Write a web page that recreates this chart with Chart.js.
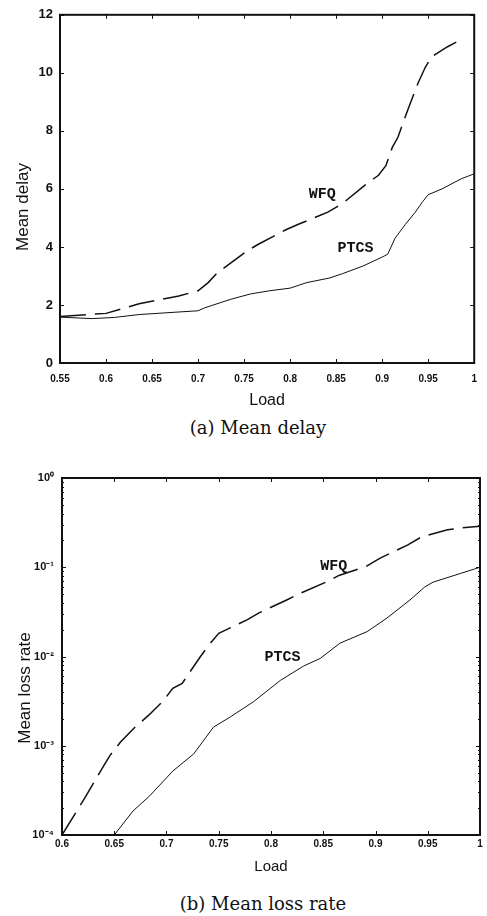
<!DOCTYPE html>
<html>
<head>
<meta charset="utf-8">
<script src="https://cdn.jsdelivr.net/npm/chart.js@4/dist/chart.umd.min.js"></script>
<style>
  html, body { margin: 0; padding: 0; background: #fff; }
  body { width: 487px; height: 916px; position: relative; overflow: hidden; }
  canvas { position: absolute; left: 0; }
  #ca { top: 0; }
  #cb { top: 458px; }
  .ytitle { position: absolute; font-family: "Liberation Sans", Arial, sans-serif; font-size: 17px; line-height: 17px;
            color: #111; white-space: nowrap; transform: translate(-50%, -50%) rotate(-90deg); }
  .cap { position: absolute; font-family: "DejaVu Serif", serif; font-size: 18px; line-height: 20px;
         color: #111; white-space: nowrap; transform: translate(-50%, -50%); }
</style>
</head>
<body>
<canvas id="ca" width="487" height="415"></canvas>
<canvas id="cb" width="487" height="420"></canvas>
<div class="ytitle" style="left:22px; top:207px;">Mean delay</div>
<div class="ytitle" style="left:24px; top:688px;">Mean loss rate</div>
<div class="cap" style="left:258px; top:428px;">(a) Mean delay</div>
<div class="cap" style="left:263px; top:904px;">(b) Mean loss rate</div>
<script>
// ---------- (a) Mean delay ----------
const delayXTicks = [0.55, 0.6, 0.65, 0.7, 0.75, 0.8, 0.85, 0.9, 0.95, 1];
const delayYTicks = [0, 2, 4, 6, 8, 10, 12];

const delayLoadWfq = [0.55, 0.58, 0.60, 0.625, 0.636, 0.668, 0.679, 0.70, 0.711, 0.721, 0.754, 0.766, 0.796, 0.809, 0.841, 0.857, 0.882, 0.896, 0.904, 0.911, 0.917, 0.928, 0.939, 0.947, 0.954, 0.971, 0.986];
const delayWfq     = [1.60, 1.67, 1.71, 1.94, 2.04, 2.24, 2.31, 2.49, 2.77, 3.11, 3.88, 4.10, 4.60, 4.78, 5.20, 5.50, 6.15, 6.47, 6.80, 7.43, 7.77, 8.74, 9.65, 10.20, 10.56, 10.90, 11.15];

const delayLoadPtcs = [0.55, 0.585, 0.609, 0.636, 0.675, 0.70, 0.707, 0.736, 0.757, 0.778, 0.80, 0.818, 0.843, 0.857, 0.879, 0.90, 0.906, 0.914, 0.925, 0.936, 0.944, 0.95, 0.965, 0.986, 1.0];
const delayPtcs     = [1.58, 1.53, 1.57, 1.67, 1.75, 1.80, 1.90, 2.20, 2.38, 2.49, 2.58, 2.77, 2.93, 3.08, 3.34, 3.65, 3.75, 4.30, 4.77, 5.20, 5.56, 5.80, 6.00, 6.35, 6.52];

// ---------- (b) Mean loss rate ----------
const lossXTicks = [0.6, 0.65, 0.7, 0.75, 0.8, 0.85, 0.9, 0.95, 1];
const lossYMajor = [1e-4, 1e-3, 1e-2, 1e-1, 1];
const lossYLabels = ['10\u207B\u2074', '10\u207B\u00B3', '10\u207B\u00B2', '10\u207B\u00B9', '10\u2070'];

const lossLoadWfq = [0.60, 0.617, 0.623, 0.64, 0.646, 0.656, 0.670, 0.683, 0.697, 0.706, 0.715, 0.732, 0.740, 0.750, 0.777, 0.789, 0.815, 0.828, 0.856, 0.865, 0.891, 0.904, 0.931, 0.944, 0.969, 0.981, 1.0];
const lossWfq     = [1.0e-4, 2.1e-4, 2.75e-4, 6.0e-4, 7.8e-4, 1.1e-3, 1.62e-3, 2.2e-3, 3.2e-3, 4.4e-3, 5.0e-3, 9.8e-3, 1.32e-2, 1.82e-2, 2.57e-2, 3.1e-2, 4.3e-2, 5.1e-2, 7.1e-2, 8.1e-2, 0.102, 0.126, 0.178, 0.219, 0.263, 0.275, 0.288];

const lossLoadPtcs = [0.65, 0.668, 0.684, 0.706, 0.726, 0.745, 0.761, 0.783, 0.809, 0.831, 0.847, 0.866, 0.892, 0.911, 0.933, 0.947, 0.955, 0.981, 1.0];
const lossPtcs     = [1.0e-4, 1.86e-4, 2.75e-4, 5.2e-4, 8.1e-4, 1.62e-3, 2.1e-3, 3.1e-3, 5.4e-3, 7.8e-3, 9.5e-3, 1.41e-2, 1.9e-2, 2.7e-2, 4.3e-2, 6.0e-2, 6.8e-2, 8.5e-2, 0.1];

// curve labels (data coordinates)
const delayNotes = [{ text: 'WFQ', x: 0.835, y: 5.8 }, { text: 'PTCS', x: 0.871, y: 3.95 }];
const lossNotes  = [{ text: 'WFQ', x: 0.860, y: 0.104 }, { text: 'PTCS', x: 0.811, y: 0.0098 }];

const INK = '#111';
const pts = (xs, ys) => xs.map((x, i) => ({ x, y: ys[i] }));
const fmt = v => String(+v.toFixed(2));

const framePlugin = {
  id: 'frame',
  afterDraw(chart, args, opts) {
    const { ctx, chartArea: a, scales } = chart;
    ctx.save();
    ctx.strokeStyle = INK;
    ctx.lineWidth = 1;
    const xs = scales.x, ys = scales.y;
    xs.ticks.forEach(t => {
      const p = Math.round(xs.getPixelForValue(t.value)) + 0.5;
      ctx.beginPath();
      ctx.moveTo(p, a.bottom); ctx.lineTo(p, a.bottom - 4);
      ctx.moveTo(p, a.top); ctx.lineTo(p, a.top + 4);
      ctx.stroke();
    });
    ys.ticks.forEach(t => {
      const p = Math.round(ys.getPixelForValue(t.value)) + 0.5;
      const len = t.major === false ? 2 : 4;
      ctx.beginPath();
      ctx.moveTo(a.left, p); ctx.lineTo(a.left + len, p);
      ctx.moveTo(a.right, p); ctx.lineTo(a.right - len, p);
      ctx.stroke();
    });
    ctx.lineWidth = 2;
    ctx.strokeRect(a.left, a.top, a.right - a.left, a.bottom - a.top);
    ctx.fillStyle = INK;
    ctx.font = 'bold 15px "Liberation Mono", "DejaVu Sans Mono", monospace';
    ctx.textAlign = 'center';
    ctx.textBaseline = 'middle';
    (opts.notes || []).forEach(n => {
      ctx.fillText(n.text, xs.getPixelForValue(n.x), ys.getPixelForValue(n.y));
    });
    ctx.restore();
  }
};

const tickFont = (size) => ({ family: '"Liberation Sans", Arial, sans-serif', size, weight: 'bold' });

function lineSets(xw, yw, xp, yp) {
  return [
    { label: 'WFQ', data: pts(xw, yw), borderColor: INK, borderWidth: 1.5, borderDash: [26, 9],
      pointRadius: 0, fill: false, tension: 0 },
    { label: 'PTCS', data: pts(xp, yp), borderColor: INK, borderWidth: 1,
      pointRadius: 0, fill: false, tension: 0 }
  ];
}

new Chart(document.getElementById('ca'), {
  type: 'line',
  data: { datasets: lineSets(delayLoadWfq, delayWfq, delayLoadPtcs, delayPtcs) },
  options: {
    responsive: false, animation: false, devicePixelRatio: 1,
    layout: { padding: { top: 11, right: 7, left: 0, bottom: 0 } },
    plugins: { legend: { display: false }, tooltip: { enabled: false }, frame: { notes: delayNotes } },
    scales: {
      x: {
        type: 'linear', min: 0.55, max: 1,
        afterBuildTicks: s => { s.ticks = delayXTicks.map(v => ({ value: v })); },
        afterFit: s => { s.height = 52; },
        grid: { display: false, drawTicks: false }, border: { display: false },
        ticks: { padding: 10, color: INK, font: tickFont(10), maxRotation: 0, autoSkip: false, callback: v => fmt(v) },
        title: { display: true, text: 'Load', color: INK, font: { family: '"Liberation Sans", Arial, sans-serif', size: 16 }, padding: { top: 0, bottom: 5 } }
      },
      y: {
        type: 'linear', min: 0, max: 12,
        afterBuildTicks: s => { s.ticks = delayYTicks.map(v => ({ value: v })); },
        afterFit: s => { s.width = 60; },
        grid: { display: false, drawTicks: false }, border: { display: false },
        ticks: { padding: 7, color: INK, font: tickFont(13), autoSkip: false, callback: v => String(v) }
      }
    }
  },
  plugins: [framePlugin]
});

const lossMinor = [];
for (let e = -4; e < 0; e++) for (let m = 1; m <= 9; m++) lossMinor.push(+(m * Math.pow(10, e)).toPrecision(3));
lossMinor.push(1);

new Chart(document.getElementById('cb'), {
  type: 'line',
  data: { datasets: lineSets(lossLoadWfq, lossWfq, lossLoadPtcs, lossPtcs) },
  options: {
    responsive: false, animation: false, devicePixelRatio: 1,
    layout: { padding: { top: 20, right: 7, left: 0, bottom: 0 } },
    plugins: { legend: { display: false }, tooltip: { enabled: false }, frame: { notes: lossNotes } },
    scales: {
      x: {
        type: 'linear', min: 0.6, max: 1,
        afterBuildTicks: s => { s.ticks = lossXTicks.map(v => ({ value: v })); },
        afterFit: s => { s.height = 43; },
        grid: { display: false, drawTicks: false }, border: { display: false },
        ticks: { padding: 3, color: INK, font: tickFont(10), maxRotation: 0, autoSkip: false, callback: v => fmt(v) },
        title: { display: true, text: 'Load', color: INK, font: { family: '"Liberation Sans", Arial, sans-serif', size: 15 }, padding: { top: 0, bottom: 2 } }
      },
      y: {
        type: 'logarithmic', min: 1e-4, max: 1,
        afterBuildTicks: s => {
          s.ticks = lossMinor.map(v => ({ value: v, major: lossYMajor.some(m => Math.abs(m - v) < m * 1e-6) }));
        },
        afterFit: s => { s.width = 62; },
        grid: { display: false, drawTicks: false }, border: { display: false },
        ticks: {
          padding: 8, color: INK, font: tickFont(11), autoSkip: false,
          callback: (v) => {
            const i = lossYMajor.findIndex(m => Math.abs(m - v) < m * 1e-6);
            return i >= 0 ? lossYLabels[i] : '';
          }
        }
      }
    }
  },
  plugins: [framePlugin]
});
</script>
</body>
</html>
